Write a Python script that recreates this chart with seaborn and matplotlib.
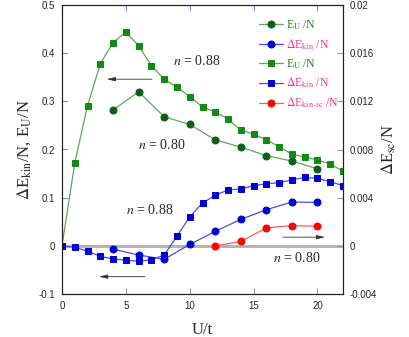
import numpy as np
import pandas as pd
import matplotlib
matplotlib.use('Agg')
import matplotlib.pyplot as plt
import seaborn as sns

# n = 0.88 (squares), U/t = 0..22
u88 = list(range(0, 23))
eu88 = [0.0, 0.172, 0.291, 0.378, 0.422, 0.444, 0.415, 0.374, 0.346, 0.329, 0.310,
        0.288, 0.278, 0.263, 0.240, 0.232, 0.220, 0.206, 0.190, 0.185, 0.178, 0.170, 0.155]
dk88 = [0.0, -0.003, -0.011, -0.022, -0.027, -0.030, -0.032, -0.029, -0.019, 0.020, 0.060,
        0.089, 0.105, 0.116, 0.118, 0.125, 0.129, 0.131, 0.137, 0.142, 0.140, 0.133, 0.125]

# n = 0.80 (circles)
u80 = [4, 6, 8, 10, 12, 14, 16, 18, 20]
eu80 = [0.282, 0.320, 0.268, 0.252, 0.220, 0.205, 0.187, 0.176, 0.160]
dk80 = [-0.007, -0.019, -0.028, 0.003, 0.030, 0.055, 0.075, 0.091, 0.090]

# superconducting kinetic energy gain (right axis)
usc = [12, 14, 16, 18, 20]
dsc = [0.0, 0.00036, 0.00149, 0.00168, 0.00163]

df88 = pd.DataFrame({'U': u88, 'EU': eu88, 'dK': dk88})
df80 = pd.DataFrame({'U': u80, 'EU': eu80, 'dK': dk80})
dfsc = pd.DataFrame({'U': usc, 'dsc': dsc})

sns.set_style('ticks')
plt.rcParams['font.family'] = ['Liberation Sans', 'DejaVu Sans']
plt.rcParams['mathtext.fontset'] = 'stix'

fig = plt.figure(figsize=(4.09, 3.37), dpi=100)
ax = fig.add_axes([62/409, 43/337, 281/409, 289/337])
ax2 = ax.twinx()

ax.axhline(0, color='#b0b0b0', lw=2, zorder=0)

green_m, green_l = '#138a13', '#5aa85a'
dgreen_m = '#0b5e1a'
blue_m, blue_l = '#0000d0', '#4a4aee'
red_m, red_l = '#ff0000', '#ff5a5a'
ms = 5

sns.lineplot(data=df80, x='U', y='EU', ax=ax, color=green_l, marker='o', markersize=ms,
             markerfacecolor=dgreen_m, markeredgecolor=dgreen_m, lw=0.9, label='eu80')
sns.lineplot(data=df80, x='U', y='dK', ax=ax, color=blue_l, marker='o', markersize=ms,
             markerfacecolor=blue_m, markeredgecolor=blue_m, lw=0.9, label='dk80')
sns.lineplot(data=df88, x='U', y='EU', ax=ax, color=green_l, marker='s', markersize=ms,
             markerfacecolor=green_m, markeredgecolor=green_m, lw=0.9, label='eu88')
sns.lineplot(data=df88, x='U', y='dK', ax=ax, color=blue_l, marker='s', markersize=ms,
             markerfacecolor=blue_m, markeredgecolor=blue_m, lw=0.9, label='dk88')
sns.lineplot(data=dfsc, x='U', y='dsc', ax=ax2, color=red_l, marker='o', markersize=ms,
             markerfacecolor=red_m, markeredgecolor=red_m, lw=0.9, label='sc')

ax.set_xlim(0, 22)
ax.set_ylim(-0.1, 0.5)
ax2.set_ylim(-0.004, 0.02)
ax.set_xticks([0, 5, 10, 15, 20])
ax.set_yticks([-0.1, 0, 0.1, 0.2, 0.3, 0.4, 0.5])
ax.set_yticklabels(['-0.1', '0', '0.1', '0.2', '0.3', '0.4', '0.5'])
ax2.set_yticks([-0.004, 0, 0.004, 0.008, 0.012, 0.016, 0.02])
ax2.set_yticklabels(['-0.004', '0', '0.004', '0.008', '0.012', '0.016', '0.02'])

tick_c = '#8c8cf0'
ax.tick_params(axis='x', direction='in', top=True, length=4, color=tick_c, labelsize=7, pad=5)
ax.tick_params(axis='y', direction='in', length=4, color=tick_c, labelsize=7, pad=5)
ax2.tick_params(axis='y', direction='in', length=4, color=tick_c, labelsize=7, pad=5)
for a in (ax, ax2):
    for s in a.spines.values():
        s.set_linewidth(0.8)
        s.set_color('#222222')

serif = ['Liberation Serif', 'DejaVu Serif']
ax.set_xlabel('U/t', family=serif, fontsize=12, labelpad=8)
ax.set_ylabel(r'$\Delta$E$_{\rm kin}$/N, E$_{\rm U}$/N', family=serif, fontsize=12, labelpad=4)
ax2.set_ylabel(r'$\Delta$E$_{\rm sc}$/N', family=serif, fontsize=12, labelpad=2,
               rotation=90)

# legend
h1, _ = ax.get_legend_handles_labels()
h2, _ = ax2.get_legend_handles_labels()
if ax.get_legend():
    ax.get_legend().remove()
if ax2.get_legend():
    ax2.get_legend().remove()
labels = [r'E$_{\rm U}$ /N', r'$\Delta$E$_{\rm kin}$ /N', r'E$_{\rm U}$ /N',
          r'$\Delta$E$_{\rm kin}$ /N', r'$\Delta$E$_{\text{kin-sc}}$ /N']
pink, lgreen = '#ff2f8f', '#2b7a2b'
leg = ax2.legend(h1 + h2, labels,
                 loc='upper left', bbox_to_anchor=(0.685, 0.97), frameon=False,
                 prop={'family': serif, 'size': 8.5}, handlelength=2.0, handletextpad=0.3,
                 labelspacing=0.45, borderaxespad=0,
                 labelcolor=[lgreen, pink, lgreen, pink, pink])

# annotations
tfont = dict(family=serif, fontsize=10)
ax.text(10.55, 0.384, r'$n$ = 0.88', ha='center', va='center', **tfont)
ax.text(7.8, 0.21, r'$n$ = 0.80', ha='center', va='center', **tfont)
ax.text(6.9, 0.075, r'$n$ = 0.88', ha='center', va='center', **tfont)
ax.text(18.4, -0.026, r'$n$ = 0.80', ha='center', va='center', **tfont)

ap = dict(arrowstyle='-|>,head_length=0.5,head_width=0.12', color='#333333', lw=0.6,
          shrinkA=0, shrinkB=0)
ax.annotate('', xy=(3.5, 0.346), xytext=(7.05, 0.346), arrowprops=ap)
ax.annotate('', xy=(2.9, -0.064), xytext=(6.5, -0.064), arrowprops=ap)
ax.annotate('', xy=(20.6, 0.018), xytext=(17.3, 0.018), arrowprops=ap)

fig.savefig('out.png', dpi=100)
